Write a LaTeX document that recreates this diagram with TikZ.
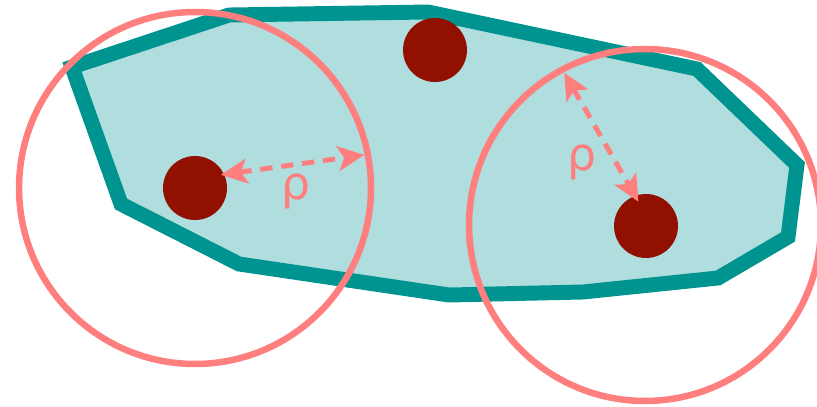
\documentclass[tikz,border=0pt]{standalone}
\usepackage{fontspec}
\setmainfont{DejaVu Sans}
\usetikzlibrary{arrows.meta}

\definecolor{hullline}{HTML}{009490}
\definecolor{hullfill}{HTML}{B0DDDD}
\definecolor{ballline}{HTML}{FF7F7F}
\definecolor{pointfill}{HTML}{921000}

\begin{document}
\begin{tikzpicture}[
    x=0.02cm, y=-0.02cm,
    hull/.style={
        draw=hullline,
        fill=hullfill,
        line width=8.5pt,
        line join=miter,
    },
    ball/.style={
        circle,
        draw=ballline,
        line width=3.7pt,
        inner sep=0pt,
        outer sep=0pt,
        minimum size=7.04cm,
    },
    point/.style={
        circle,
        fill=pointfill,
        inner sep=0pt,
        minimum size=1.28cm,
    },
    rhoarrow/.style={
        draw=ballline,
        line width=2.8pt,
        dash pattern=on 7pt off 5pt,
        {Stealth[length=15pt, width=14pt, inset=3.5pt]}-{Stealth[length=15pt, width=14pt, inset=3.5pt]},
    },
    rholabel/.style={
        text=ballline,
        font=\fontsize{26}{30}\selectfont,
        inner sep=0pt,
    },
]

% Frame
\useasboundingbox (0,0) rectangle (817,406);

% --- Hull ---
\draw[hull] (72,67) -- (229,15) -- (428,12) -- (697,69) -- (797,165)
    -- (788,237) -- (718,278) -- (583,292) -- (449,295) -- (239,264)
    -- (121,204) -- cycle;

% --- Balls ---
\node[ball] (B1) at (195,188) {};
\node[ball] (B2) at (645,225) {};

% --- Points ---
\node[point] (P1) at (195,188) {};
\node[point] (P2) at (435,50) {};
\node[point] (P3) at (646,226) {};

% --- Radii ---
\draw[rhoarrow, shorten <=-2pt, shorten >=2pt] (P1.25) -- (B1.11);
\draw[rhoarrow, shorten <=2pt, shorten >=-4pt] (B2.118) -- (P3.110);

\node[rholabel] (L1) at (296,191) {ρ};
\node[rholabel] (L2) at (582,162) {ρ};

\end{tikzpicture}
\end{document}
